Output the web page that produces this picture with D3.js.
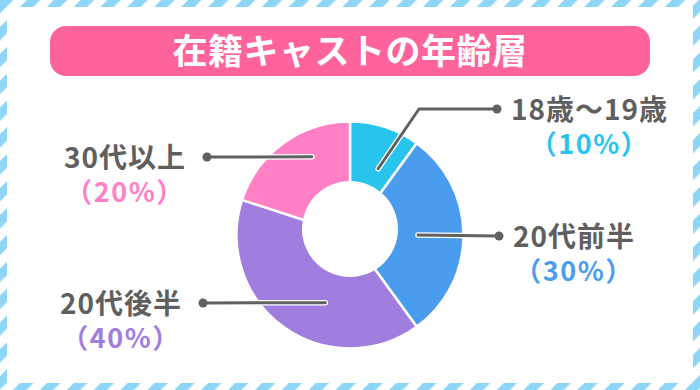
<!DOCTYPE html>
<html lang="ja">
<head>
<meta charset="UTF-8">
<title>在籍キャストの年齢層</title>
<script src="https://cdn.jsdelivr.net/npm/d3@7"></script>
<style>
    body { margin: 0; background: #fff; }
    text { font-family: "Noto Sans CJK JP", "Noto Sans", sans-serif; font-weight: 700; }
</style>
</head>
<body>
<svg id="chart" width="700" height="390"></svg>
<script>
    // données
    const title = "在籍キャストの年齢層";
    const categories = ["18歳〜19歳", "20代前半", "20代後半", "30代以上"];
    const shares = [10, 30, 40, 20];
    const colors = ["#29c4ee", "#4a9dee", "#a07ee0", "#ff80c4"];

    // placement des étiquettes (point, côté, angle/rayon du bout intérieur, coude éventuel)
    const labelLayout = [
        {dot: [497, 109], side: "right", inner: [23, 72], elbow: [419, 109]},
        {dot: [499, 236], side: "right", inner: [90, 68]},
        {dot: [203, 303], side: "left", inner: [200, 72]},
        {dot: [207, 157], side: "left", inner: [334, 87]}
    ];

    const svg = d3.select("#chart");
    const width = +svg.attr("width");
    const height = +svg.attr("height");

    /* cadre rayé */
    const defs = svg.append("defs");
    const pat = defs.append("pattern")
        .attr("id", "stripes")
        .attr("patternUnits", "userSpaceOnUse")
        .attr("width", 19).attr("height", 19)
        .attr("patternTransform", "rotate(45)");
    pat.append("rect").attr("width", 9.5).attr("height", 19).attr("fill", "#8ed6f8");

    svg.append("rect")
        .attr("width", width).attr("height", height)
        .attr("fill", "#fff")
        .attr("stroke", "url(#stripes)")
        .attr("stroke-width", 14);

    /* titre */
    svg.append("rect")
        .attr("x", 50).attr("y", 26)
        .attr("width", 600).attr("height", 50)
        .attr("rx", 16)
        .attr("fill", "#ff639c");

    svg.append("text")
        .attr("x", width / 2).attr("y", 63.5)
        .attr("text-anchor", "middle")
        .attr("font-size", 35)
        .attr("letter-spacing", 0.5)
        .attr("fill", "#fff")
        .text(title);

    /* donut */
    const cx = 350, cy = 235;
    const pie = d3.pie().sort(null).value(d => d);
    const arc = d3.arc().innerRadius(0).outerRadius(113.5);

    const g = svg.append("g").attr("transform", "translate(" + cx + "," + cy + ")");
    g.selectAll("path")
        .data(pie(shares))
        .join("path")
        .attr("d", arc)
        .attr("fill", (d, i) => colors[i])
        .attr("stroke", "#fff")
        .attr("stroke-width", 2.5);

    svg.append("circle")
        .attr("cx", cx).attr("cy", 229)
        .attr("r", 48)
        .attr("fill", "#fff");

    /* lignes de rappel + étiquettes */
    const line = d3.line();
    labelLayout.forEach(function(l, i) {
        const a = l.inner[0] * Math.PI / 180;
        const p0 = [cx + l.inner[1] * Math.sin(a), cy - l.inner[1] * Math.cos(a)];
        const pts = l.elbow ? [p0, l.elbow, l.dot] : [p0, l.dot];

        svg.append("path").attr("d", line(pts))
            .attr("fill", "none").attr("stroke", "#fff")
            .attr("stroke-width", 5.5).attr("stroke-linecap", "round").attr("stroke-linejoin", "round");
        svg.append("path").attr("d", line(pts))
            .attr("fill", "none").attr("stroke", "#616161")
            .attr("stroke-width", 3).attr("stroke-linecap", "round").attr("stroke-linejoin", "round");
        svg.append("circle").attr("cx", l.dot[0]).attr("cy", l.dot[1]).attr("r", 4.5).attr("fill", "#616161");

        const tx = l.side === "right" ? l.dot[0] + 14 : l.dot[0] - 21;
        const name = svg.append("text")
            .attr("x", tx).attr("y", l.dot[1] + 11)
            .attr("text-anchor", l.side === "right" ? "start" : "end")
            .attr("font-size", 28)
            .attr("letter-spacing", 1)
            .attr("fill", "#5f5f5f")
            .text(categories[i]);

        const bb = name.node().getBBox();
        svg.append("text")
            .attr("x", bb.x + bb.width / 2).attr("y", l.dot[1] + 45)
            .attr("text-anchor", "middle")
            .attr("font-size", 27)
            .attr("font-weight", 500)
            .attr("letter-spacing", 1.5)
            .attr("fill", colors[i])
            .text("（" + shares[i] + "%）");
    });
</script>
</body>
</html>
